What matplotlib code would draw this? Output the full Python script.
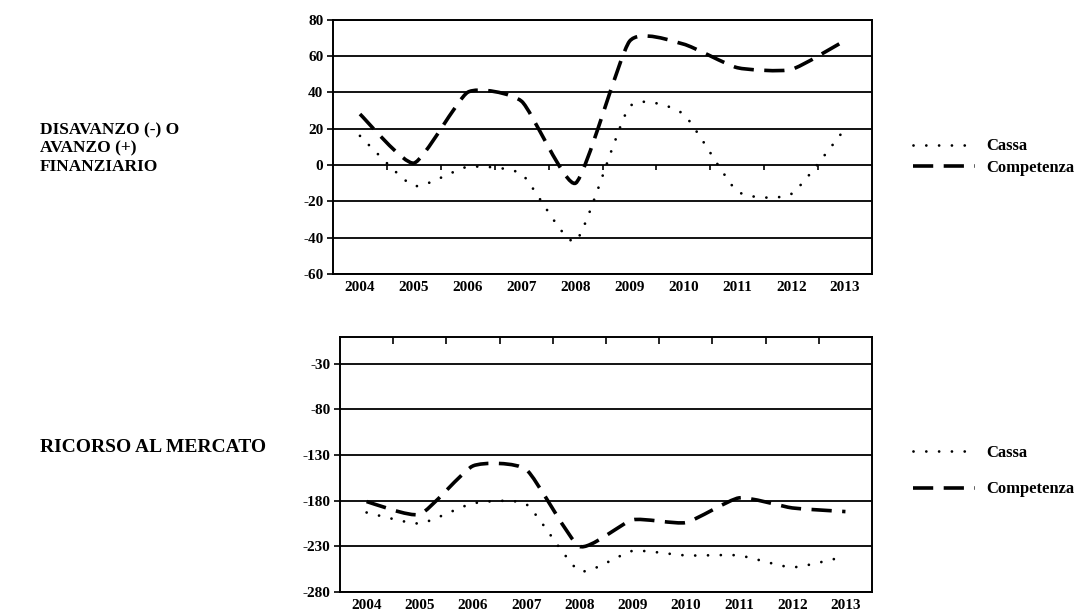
import numpy as np
import matplotlib
matplotlib.use('Agg')
import matplotlib.pyplot as plt
from matplotlib.path import Path
from matplotlib.patches import PathPatch
from matplotlib.lines import Line2D

plt.rcParams['font.family'] = ['Liberation Serif', 'DejaVu Serif']
plt.rcParams['font.weight'] = 'bold'
plt.rcParams['axes.unicode_minus'] = False

# dati
anni = ['2004', '2005', '2006', '2007', '2008', '2009', '2010', '2011', '2012', '2013']

saldo_cassa = [16, -11.5, -1, -5, -42, 32, 28, -14.5, -16, 20]
saldo_competenza = [28, 1, 40, 35, -10, 68, 66.5, 53.5, 52.5, 68.5]

mercato_cassa = [-193, -205, -183, -184, -257, -235, -240, -240, -253, -241]
mercato_competenza = [-181, -195, -142, -146, -230, -201, -204, -177, -188, -192]

stile_cassa = dict(linestyle=(0, (0.01, 4.6)), linewidth=2.0)
stile_comp = dict(linestyle=(0, (5.6, 2.9)), linewidth=2.6)

TENSIONE = 1 / 11


def curva_smussata(ax, valori, cap, **stile):
    # curva di Bezier tipo "linea smussata" di Excel
    x = np.arange(len(valori), dtype=float)
    y = np.asarray(valori, dtype=float)
    n = len(x)
    verts = [(x[0], y[0])]
    codes = [Path.MOVETO]
    for i in range(n - 1):
        i0 = max(i - 1, 0)
        i3 = min(i + 2, n - 1)
        c1 = (x[i] + (x[i + 1] - x[i0]) * TENSIONE, y[i] + (y[i + 1] - y[i0]) * TENSIONE)
        c2 = (x[i + 1] - (x[i3] - x[i]) * TENSIONE, y[i + 1] - (y[i3] - y[i]) * TENSIONE)
        verts += [c1, c2, (x[i + 1], y[i + 1])]
        codes += [Path.CURVE4] * 3
    patch = PathPatch(Path(verts, codes), fill=False, edgecolor='black',
                      capstyle=cap, zorder=3, **stile)
    ax.add_patch(patch)


def prepara_asse(ax, ymin, ymax, passo):
    ax.set_xlim(-0.5, len(anni) - 0.5)
    ax.set_ylim(ymin, ymax)
    ax.set_xticks(range(len(anni)))
    ax.set_xticklabels(anni)
    ax.tick_params(axis='x', length=0, pad=5, labelsize=11)
    ax.set_yticks(np.arange(ymin, ymax + 0.1, passo))
    ax.tick_params(axis='y', length=4, width=1.2, direction='out', labelsize=11, pad=3)
    ax.yaxis.grid(True, color='black', linewidth=1.3)
    ax.set_axisbelow(True)
    for s in ax.spines.values():
        s.set_linewidth(1.4)
        s.set_color('black')


fig = plt.figure(figsize=(10.77, 6.14), dpi=100)

# grafico superiore
ax1 = fig.add_axes([0.3092, 0.5537, 0.5005, 0.4145])
prepara_asse(ax1, -60, 80, 20)
ax1.vlines(np.arange(0.5, len(anni) - 1), -2.5, 0, color='black', linewidth=1.2)
curva_smussata(ax1, saldo_cassa, 'round', **stile_cassa)
curva_smussata(ax1, saldo_competenza, 'butt', **stile_comp)

# grafico inferiore
ax2 = fig.add_axes([0.3157, 0.0358, 0.494, 0.4153])
prepara_asse(ax2, -280, -30, 50)
ax2.set_ylim(-280, -1)
ax2.set_xticks(np.arange(0.5, len(anni) - 1), minor=True)
ax2.tick_params(axis='x', which='minor', top=True, bottom=False, direction='in',
                length=5, width=1.2)
curva_smussata(ax2, mercato_cassa, 'round', **stile_cassa)
curva_smussata(ax2, mercato_competenza, 'butt', **stile_comp)

# legende
handles = [Line2D([], [], color='black', dash_capstyle='round', **stile_cassa),
           Line2D([], [], color='black', **stile_comp)]
for yy, spazio in [(1 - 157 / 614, 0.3), (1 - 471 / 614, 1.25)]:
    fig.legend(handles, ['Cassa', 'Competenza'], loc='center left',
               bbox_to_anchor=(0.837, yy), frameon=False, handlelength=3.7,
               handletextpad=0.7, labelspacing=spazio, borderpad=0.2,
               prop={'family': 'Liberation Serif', 'weight': 'bold', 'size': 12})

# titoli a sinistra
fig.text(0.037, 1 - 122 / 614, 'DISAVANZO (-) O\nAVANZO (+)\nFINANZIARIO',
         ha='left', va='top', fontsize=12.5, fontweight='bold', linespacing=1.2)
fig.text(0.037, 1 - 447 / 614, 'RICORSO AL MERCATO', ha='left', va='center',
         fontsize=14, fontweight='bold')

fig.savefig('out.png', dpi=100)
